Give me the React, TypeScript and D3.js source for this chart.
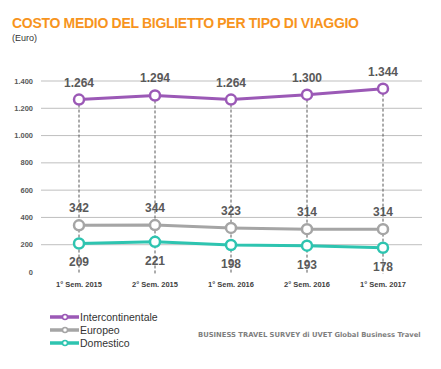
import { useEffect, useRef } from "react";
import * as d3 from "d3";

const categories = ["1° Sem. 2015", "2° Sem. 2015", "1° Sem. 2016", "2° Sem. 2016", "1° Sem. 2017"];
const intercontinentale = [1264, 1294, 1264, 1300, 1344];
const europeo = [342, 344, 323, 314, 314];
const domestico = [209, 221, 198, 193, 178];
const yTicks = [0, 200, 400, 600, 800, 1000, 1200, 1400];

const seriesList = [
  { name: "Intercontinentale", values: intercontinentale, color: "#9b59b6", labelPos: "above" },
  { name: "Europeo", values: europeo, color: "#a5a5a5", labelPos: "above" },
  { name: "Domestico", values: domestico, color: "#2ec4b0", labelPos: "below" },
];

const fmt = (v: number) => d3.format(",")(v).replace(/,/g, ".");

export default function App() {
  const svgRef = useRef<SVGSVGElement>(null);

  useEffect(() => {
    const svg = d3.select(svgRef.current);
    svg.selectAll("*").remove();
    const width = 441;
    const height = 369;
    const font = "Arial, 'Liberation Sans', sans-serif";

    const x = d3.scalePoint<string>().domain(categories).range([79, 383]);
    const y = d3.scaleLinear().domain([0, 1400]).range([272, 81]);

    // title
    svg.append("text").attr("x", 12).attr("y", 28)
      .attr("font-family", font).attr("font-size", 14).attr("font-weight", "bold")
      .attr("fill", "#f7941d").attr("letter-spacing", -0.3)
      .text("COSTO MEDIO DEL BIGLIETTO PER TIPO DI VIAGGIO");
    svg.append("text").attr("x", 12).attr("y", 41)
      .attr("font-family", font).attr("font-size", 9).attr("fill", "#333")
      .text("(Euro)");

    // grid
    const grid = svg.append("g");
    grid.selectAll("line").data(yTicks.filter((t) => t > 0)).enter().append("line")
      .attr("x1", 41).attr("x2", 422)
      .attr("y1", (d) => y(d)).attr("y2", (d) => y(d))
      .attr("stroke", "#bfbfbf").attr("stroke-width", 1);

    svg.append("g").selectAll("text").data(yTicks).enter().append("text")
      .attr("x", 33).attr("y", (d) => y(d) + 2.5)
      .attr("text-anchor", "end")
      .attr("font-family", font).attr("font-size", 7.5).attr("font-weight", "bold")
      .attr("fill", "#595959")
      .text((d) => fmt(d));

    // dashed drop lines
    svg.append("g").selectAll("line").data(categories).enter().append("line")
      .attr("x1", (d) => x(d)!).attr("x2", (d) => x(d)!)
      .attr("y1", (_, i) => y(intercontinentale[i])).attr("y2", 274)
      .attr("stroke", "#595959").attr("stroke-width", 1).attr("stroke-dasharray", "3,2");

    // x labels
    svg.append("g").selectAll("text").data(categories).enter().append("text")
      .attr("x", (d) => x(d)!).attr("y", 286.5)
      .attr("text-anchor", "middle")
      .attr("font-family", font).attr("font-size", 7.5).attr("font-weight", "bold")
      .attr("fill", "#404040")
      .text((d) => d);

    const line = d3.line<number>()
      .x((_, i) => x(categories[i])!)
      .y((d) => y(d));

    seriesList.forEach((s) => {
      const g = svg.append("g");
      g.append("path").datum(s.values)
        .attr("fill", "none").attr("stroke", s.color).attr("stroke-width", 3)
        .attr("d", line);
      g.selectAll("circle").data(s.values).enter().append("circle")
        .attr("cx", (_, i) => x(categories[i])!).attr("cy", (d) => y(d))
        .attr("r", 5).attr("fill", "#fff")
        .attr("stroke", s.color).attr("stroke-width", 2.5);
      g.selectAll("text").data(s.values).enter().append("text")
        .attr("x", (_, i) => x(categories[i])!)
        .attr("y", (d) => (s.labelPos === "above" ? y(d) - 13 : y(d) + 23))
        .attr("text-anchor", "middle")
        .attr("font-family", font).attr("font-size", 12).attr("font-weight", "bold")
        .attr("fill", "#595959")
        .text((d) => fmt(d));
    });

    // legend
    const legend = svg.append("g");
    seriesList.forEach((s, i) => {
      const ly = 317 + i * 13;
      legend.append("line").attr("x1", 50).attr("x2", 79).attr("y1", ly).attr("y2", ly)
        .attr("stroke", s.color).attr("stroke-width", 3.5);
      legend.append("circle").attr("cx", 65).attr("cy", ly).attr("r", 2.5)
        .attr("fill", "#fff").attr("stroke", s.color).attr("stroke-width", 1.5);
      legend.append("text").attr("x", 80).attr("y", ly + 3.8)
        .attr("font-family", font).attr("font-size", 10.5).attr("fill", "#333")
        .text(s.name);
    });

    svg.append("text").attr("x", 198).attr("y", 337)
      .attr("font-family", "'DejaVu Sans', sans-serif").attr("font-size", 6.8).attr("font-weight", "bold")
      .attr("fill", "#7f7f7f")
      .text("BUSINESS TRAVEL SURVEY di UVET  Global Business Travel");

    svg.attr("width", width).attr("height", height);
  }, []);

  return (
    <svg ref={svgRef} width={441} height={369}
      style={{ position: "absolute", left: 0, top: 0, background: "#fff" }} />
  );
}
